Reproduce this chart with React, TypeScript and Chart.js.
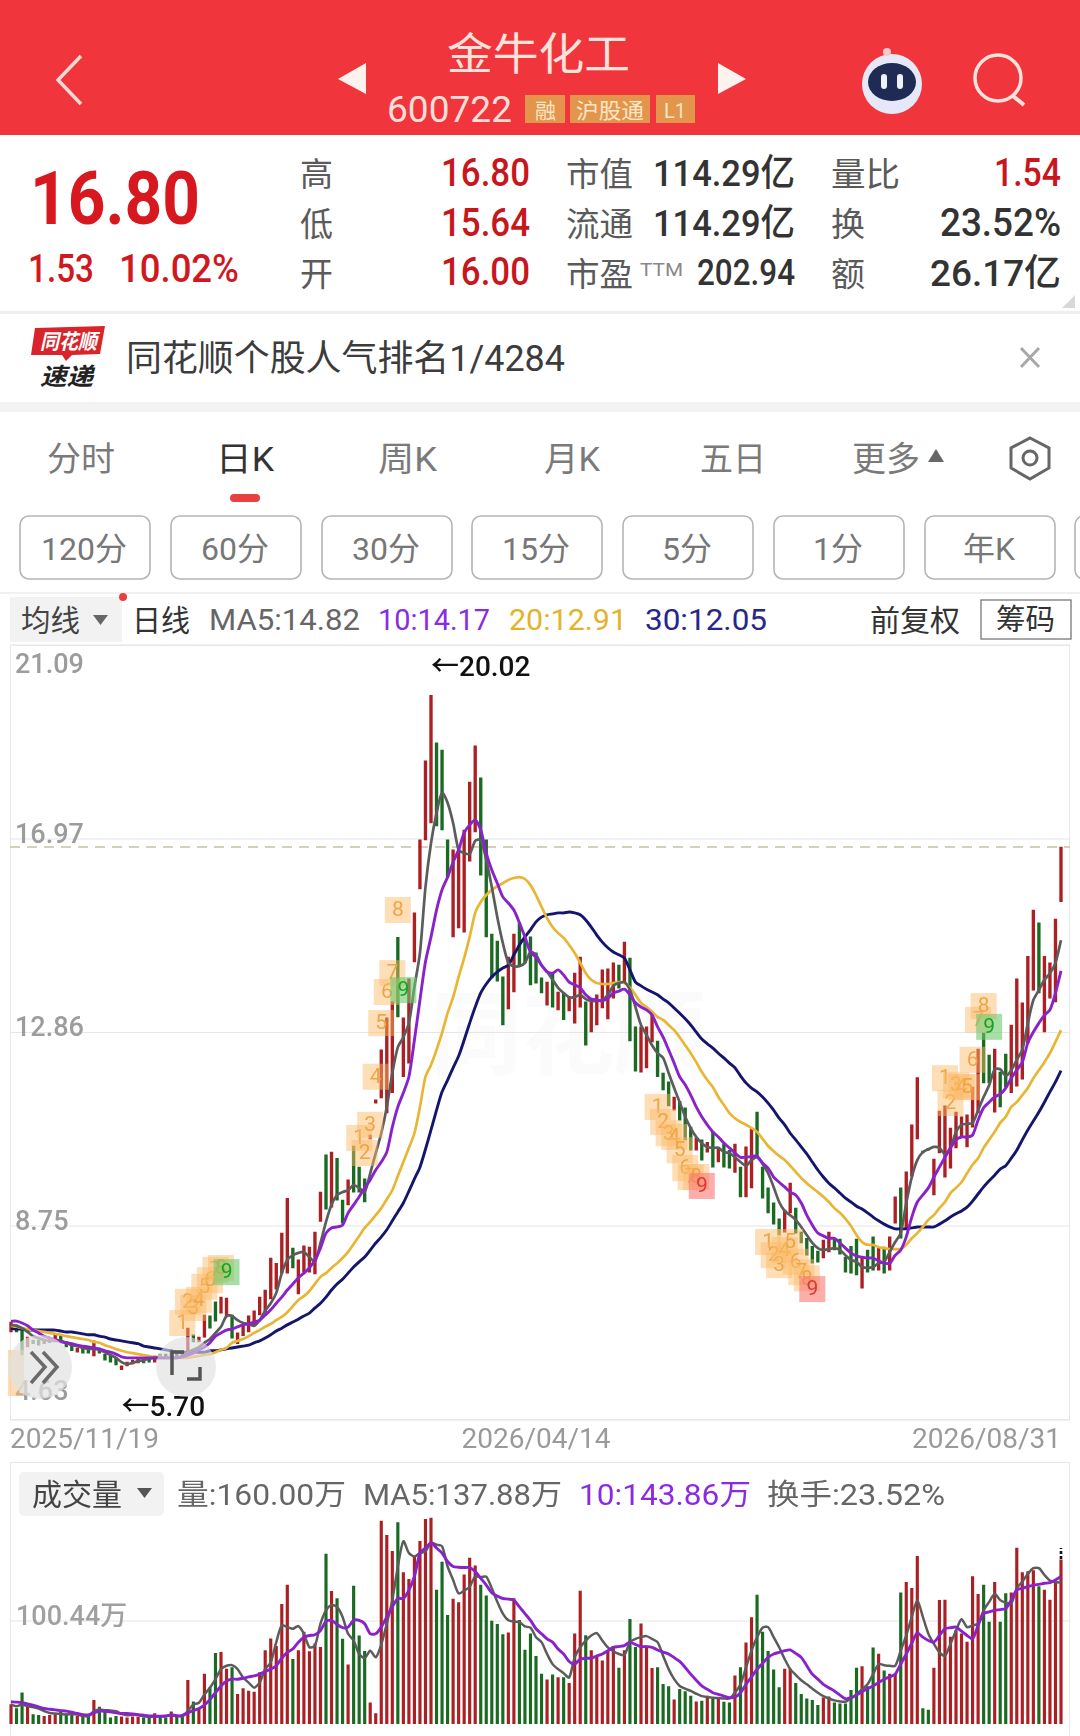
import React, { useEffect, useRef } from "react";
import { Chart, registerables } from "chart.js";

Chart.register(...registerables);

// ---------- data ----------
const barDirs =
  "rggrggrrrg" + "ggrggrgggg" + "rrrrggrggr" + "ggrgrrggrr" + "grrrrrrrrr" +
  "rgrrrrrgrg" + "grgggrrrrr" + "grrrrrrggg" + "rrrrrggggg" + "rrgggggrgr" +
  "grrrgrrrrr" + "grggrrrggg" + "rgggrgrgrg" + "grgrrggggg" + "rrgggggrrg" +
  "ggggrggrgr" + "rgrrrggrrr" + "rrrrrrggrg" + "grrrrrgrrr" + "r";

const barHigh = [
  6.71,6.65,6.54,6.39,6.33,6.33,6.33,6.37,6.44,6.42,
  6.29,6.22,6.16,6.14,6.12,6.31,6.16,6.03,5.99,5.95,
  5.78,5.86,5.90,5.95,5.93,5.95,5.99,6.03,6.03,6.12,
  6.07,6.07,6.58,6.44,6.39,6.86,6.84,7.14,7.24,7.22,
  6.86,6.48,6.63,6.84,6.95,7.24,7.39,8.07,7.96,8.60,
  9.34,8.28,8.03,8.33,8.30,8.62,9.47,10.26,10.32,10.19,
  9.30,9.73,10.45,10.00,9.75,10.68,11.43,12.49,13.17,13.51,
  14.88,13.17,14.00,15.40,16.95,18.63,20.02,19.01,18.86,16.95,
  16.74,16.80,17.16,18.18,18.95,18.27,16.95,14.95,14.80,14.04,
  14.46,14.95,15.19,14.83,14.89,14.55,14.02,13.93,14.12,13.72,
  13.70,13.61,14.12,14.46,13.51,13.55,13.66,14.19,14.21,14.34,
  14.29,14.78,14.44,12.98,12.98,12.98,13.25,12.68,12.00,11.81,
  11.49,11.40,11.26,10.85,10.62,10.58,10.53,10.75,10.41,10.49,
  10.36,10.49,10.00,10.43,10.81,11.17,10.00,9.56,9.24,8.90,
  9.09,9.66,9.13,8.62,8.49,8.32,8.22,8.45,8.62,8.47,
  8.47,8.09,8.32,8.47,8.07,8.24,8.52,8.28,8.30,8.52,
  9.37,9.56,9.90,10.90,11.90,10.34,10.40,10.17,11.19,11.30,
  10.83,11.17,11.07,11.11,11.70,12.51,12.85,12.38,12.51,12.02,
  12.40,13.02,14.00,13.49,14.48,15.46,15.19,14.48,14.34,15.27,
  16.80,
];

const barLow = [
  6.50,6.50,6.01,6.18,6.25,6.22,6.25,6.27,6.29,6.27,
  6.18,6.10,6.07,6.05,6.05,5.99,6.05,5.90,5.86,5.80,
  5.70,5.78,5.82,5.84,5.84,5.86,5.86,5.93,5.95,5.99,
  5.99,5.99,6.05,6.29,6.29,6.39,6.58,6.73,6.90,6.82,
  6.37,6.25,6.42,6.50,6.65,6.86,6.92,7.20,7.41,7.75,
  7.75,7.86,7.31,7.77,7.77,7.73,8.85,9.11,9.15,9.30,
  8.81,9.20,9.47,9.47,9.26,10.60,11.36,11.47,11.15,11.58,
  13.19,11.92,12.21,14.36,15.91,16.95,17.31,17.25,17.16,16.16,
  14.89,15.08,14.99,16.50,17.12,16.20,14.89,14.02,13.95,13.02,
  13.36,13.72,14.29,14.34,13.87,13.91,13.70,13.44,13.40,13.34,
  13.13,13.32,13.06,13.40,12.59,12.87,13.02,13.38,13.15,13.59,
  13.80,13.93,12.68,12.04,12.02,12.11,12.66,11.92,11.64,11.30,
  11.21,11.00,10.58,10.36,10.36,10.15,10.32,10.00,10.11,10.00,
  9.98,9.89,9.37,9.37,9.56,10.21,9.34,9.03,8.79,8.56,
  8.62,9.03,8.60,8.39,8.13,7.96,7.98,8.07,8.20,8.24,
  8.15,7.77,7.75,7.71,7.43,7.77,7.81,7.81,7.75,7.81,
  8.81,8.49,8.71,9.81,10.60,10.30,10.36,9.41,10.30,9.79,
  9.98,10.41,10.64,10.43,10.85,11.15,11.79,11.79,11.17,11.28,
  11.70,11.58,11.72,11.87,12.64,13.76,13.70,12.87,13.59,13.51,
  15.64,
];

const ma5 = [
  6.65,6.63,6.58,6.50,6.41,6.37,6.33,6.31,6.33,6.31,
  6.27,6.22,6.20,6.16,6.14,6.14,6.12,6.07,6.01,5.95,
  5.86,5.82,5.84,5.88,5.90,5.93,5.95,5.95,5.95,5.95,
  5.95,5.99,6.07,6.12,6.18,6.27,6.35,6.48,6.61,6.84,
  6.84,6.75,6.69,6.67,6.63,6.75,6.95,7.11,7.33,7.75,
  8.03,8.13,8.18,8.20,8.09,7.99,8.39,8.84,9.20,9.41,
  9.47,9.51,9.62,9.56,9.47,9.87,10.30,10.72,11.28,12.00,
  12.55,12.76,13.06,13.83,14.55,15.95,16.88,17.52,17.95,17.74,
  17.31,16.74,16.67,16.65,16.93,16.95,16.52,15.95,15.31,14.76,
  14.34,14.27,14.27,14.34,14.57,14.51,14.29,14.15,13.98,13.81,
  13.70,13.61,13.61,13.66,13.57,13.53,13.53,13.55,13.66,13.85,
  13.91,13.93,13.76,13.40,13.02,12.81,12.59,12.42,12.32,12.00,
  11.68,11.38,11.07,10.83,10.64,10.51,10.43,10.41,10.41,10.32,
  10.30,10.21,10.11,10.03,10.15,10.21,10.07,9.87,9.58,9.26,
  9.07,8.98,8.88,8.73,8.56,8.39,8.28,8.24,8.26,8.28,
  8.24,8.13,8.03,7.99,7.88,7.86,7.88,7.96,7.99,8.20,
  8.41,8.60,9.24,9.79,10.15,10.32,10.38,10.43,10.41,10.28,
  10.41,10.75,10.90,10.92,10.94,11.21,11.49,11.74,12.08,12.08,
  11.94,12.06,12.28,12.49,13.06,13.55,13.76,13.98,14.12,14.34,
  14.82,
];

const ma10 = [
  6.73,6.73,6.69,6.63,6.54,6.48,6.41,6.37,6.33,6.29,
  6.27,6.25,6.22,6.20,6.18,6.16,6.14,6.10,6.07,6.03,
  5.97,5.95,5.95,5.95,5.95,5.95,5.95,5.95,5.95,5.95,
  5.95,5.97,6.01,6.05,6.12,6.18,6.27,6.41,6.48,6.54,
  6.56,6.61,6.65,6.67,6.71,6.75,6.86,6.97,7.11,7.24,
  7.39,7.52,7.65,7.75,7.86,8.03,8.28,8.60,8.71,8.73,
  8.77,9.03,9.20,9.37,9.56,9.73,9.94,10.11,10.32,10.85,
  11.28,11.58,11.92,12.70,13.55,14.36,14.89,15.46,15.89,16.16,
  16.48,16.74,17.10,17.27,17.37,17.16,16.67,16.31,16.03,15.74,
  15.61,15.46,15.19,14.89,14.57,14.46,14.29,14.15,14.12,14.19,
  14.08,13.93,13.87,13.81,13.66,13.57,13.55,13.53,13.59,13.70,
  13.74,13.78,13.66,13.49,13.40,13.34,13.23,12.98,12.76,12.49,
  12.21,11.92,11.75,11.53,11.28,11.07,10.90,10.75,10.64,10.51,
  10.41,10.30,10.21,10.21,10.23,10.23,10.09,9.98,9.79,9.68,
  9.58,9.47,9.41,9.24,8.98,8.77,8.60,8.54,8.49,8.49,
  8.39,8.28,8.18,8.11,8.09,8.07,8.07,8.01,7.96,7.96,
  8.13,8.24,8.52,8.94,9.26,9.41,9.56,9.79,10.00,10.21,
  10.41,10.58,10.64,10.64,10.68,11.00,11.26,11.38,11.49,11.55,
  11.68,11.89,12.06,12.23,12.64,12.87,13.06,13.23,13.34,13.70,
  14.17,
];

const ma20 = [
  6.63,6.61,6.58,6.56,6.54,6.52,6.50,6.48,6.46,6.44,
  6.41,6.39,6.37,6.35,6.33,6.29,6.27,6.22,6.18,6.14,
  6.10,6.07,6.05,6.03,6.01,5.99,5.97,5.97,5.95,5.95,
  5.95,5.95,5.95,5.97,5.99,6.01,6.03,6.07,6.12,6.16,
  6.27,6.31,6.35,6.41,6.48,6.54,6.61,6.67,6.75,6.82,
  6.92,7.05,7.18,7.26,7.37,7.52,7.67,7.75,7.86,7.96,
  8.07,8.20,8.37,8.54,8.71,8.84,8.98,9.13,9.32,9.51,
  9.81,10.11,10.41,10.72,11.28,11.92,12.17,12.49,12.85,13.27,
  13.61,14.04,14.44,14.89,15.40,15.63,15.78,15.89,15.97,16.03,
  16.10,16.14,16.16,16.12,15.99,15.78,15.53,15.29,15.10,14.97,
  14.87,14.72,14.55,14.34,14.12,13.98,13.91,13.89,13.89,13.91,
  13.93,13.91,13.81,13.66,13.49,13.40,13.30,13.19,13.13,13.02,
  12.91,12.76,12.59,12.42,12.23,12.02,11.85,11.70,11.49,11.32,
  11.15,11.04,10.96,10.90,10.83,10.75,10.60,10.45,10.34,10.24,
  10.15,10.03,9.90,9.77,9.66,9.56,9.47,9.37,9.26,9.13,
  9.03,8.90,8.75,8.56,8.41,8.35,8.35,8.30,8.28,8.26,
  8.26,8.26,8.35,8.49,8.60,8.73,8.88,8.98,9.13,9.26,
  9.45,9.56,9.68,9.87,10.05,10.19,10.41,10.58,10.75,10.94,
  11.07,11.28,11.38,11.53,11.68,11.89,12.06,12.23,12.42,12.66,
  12.91,
];

const ma30 = [
  6.58,6.56,6.56,6.54,6.54,6.54,6.54,6.54,6.54,6.52,
  6.50,6.50,6.48,6.46,6.44,6.44,6.41,6.39,6.35,6.33,
  6.31,6.29,6.27,6.25,6.20,6.18,6.16,6.14,6.12,6.10,
  6.07,6.07,6.07,6.07,6.07,6.07,6.10,6.10,6.12,6.14,
  6.16,6.18,6.20,6.22,6.27,6.31,6.37,6.44,6.52,6.58,
  6.65,6.71,6.77,6.84,6.90,7.01,7.11,7.24,7.39,7.52,
  7.62,7.75,7.88,7.99,8.09,8.24,8.39,8.52,8.67,8.86,
  9.05,9.24,9.49,9.75,10.00,10.38,10.79,11.21,11.60,11.85,
  12.11,12.36,12.70,13.06,13.40,13.70,13.89,14.04,14.15,14.23,
  14.29,14.51,14.72,14.89,15.04,15.21,15.31,15.36,15.38,15.40,
  15.40,15.42,15.40,15.36,15.25,15.10,14.93,14.78,14.66,14.57,
  14.51,14.44,14.19,13.93,13.85,13.78,13.72,13.66,13.57,13.49,
  13.38,13.27,13.15,13.02,12.87,12.72,12.62,12.53,12.42,12.32,
  12.21,12.11,11.94,11.79,11.68,11.60,11.49,11.36,11.21,11.04,
  10.90,10.72,10.58,10.43,10.28,10.11,9.94,9.79,9.66,9.56,
  9.45,9.34,9.26,9.17,9.11,9.03,8.94,8.86,8.79,8.73,
  8.69,8.69,8.69,8.71,8.73,8.73,8.73,8.73,8.79,8.86,
  8.94,9.01,9.07,9.15,9.28,9.43,9.58,9.71,9.83,9.96,
  10.03,10.19,10.36,10.58,10.79,10.98,11.17,11.38,11.60,11.81,
  12.05,
];

const volumes = [
  19.0,15.1,30.5,17.4,9.2,8.5,7.5,8.5,9.2,11.8,
  9.8,9.2,7.5,8.5,8.5,23.0,16.4,14.1,5.9,7.5,
  6.9,5.9,6.9,6.6,5.9,7.5,10.2,7.5,5.9,11.8,
  7.5,6.6,42.7,21.7,15.1,48.6,35.4,68.9,69.9,53.5,
  55.1,28.9,34.5,32.2,31.2,50.2,71.5,83.0,75.8,116.8,
  135.5,63.0,71.5,89.6,70.6,78.1,74.8,165.7,129.3,122.4,
  82.7,57.8,134.6,86.0,70.9,20.7,10.2,197.9,184.1,168.4,
  196.3,147.7,141.1,162.5,178.2,199.5,200.9,130.6,157.9,106.0,
  121.8,118.5,145.4,161.8,154.3,135.5,125.0,100.4,97.1,87.3,
  88.9,122.4,101.1,72.2,88.0,66.0,48.6,43.0,47.9,45.3,
  45.3,39.7,88.0,129.6,86.3,71.5,66.6,61.7,71.5,75.8,
  54.5,71.5,102.1,74.8,97.8,74.8,54.2,55.1,38.7,36.4,
  23.6,33.8,31.5,27.2,21.7,22.3,27.2,24.0,24.0,21.3,
  20.7,46.9,55.1,79.1,103.7,125.7,89.6,70.9,52.8,35.4,
  53.5,53.5,39.7,28.9,24.6,23.0,18.1,25.6,26.6,20.7,
  19.7,19.7,32.8,54.5,56.1,36.4,74.2,68.3,51.9,48.6,
  48.6,128.0,138.2,132.3,163.4,15.1,13.5,54.5,120.5,120.8,
  84.7,91.2,88.0,79.8,143.8,126.4,135.5,99.4,138.2,99.4,
  127.3,128.0,171.6,147.7,148.7,149.7,133.9,130.6,120.8,137.2,
  160.0,
];

const volMa5 = [
  19.0,17.4,19.0,17.4,16.4,15.1,12.5,10.8,10.2,9.8,
  9.2,9.8,9.2,7.9,7.5,12.5,14.1,13.5,13.1,12.5,
  9.8,8.5,9.2,8.5,7.5,6.9,7.2,7.5,7.5,9.2,
  8.2,7.5,12.5,19.0,20.7,28.9,35.4,43.7,53.5,56.8,
  57.4,53.5,45.3,40.4,35.4,40.4,53.5,60.1,79.8,96.2,
  94.5,92.9,95.5,88.0,74.8,76.5,97.8,110.9,115.9,114.2,
  104.4,88.0,81.4,68.3,64.3,71.5,65.0,77.5,97.8,120.8,
  153.6,178.2,166.7,163.4,166.7,168.4,176.6,174.9,173.3,153.6,
  140.5,127.3,130.0,133.9,143.8,143.1,143.8,132.3,119.1,107.7,
  101.1,99.8,99.4,95.2,93.9,84.7,79.8,68.3,58.4,53.5,
  49.6,45.3,65.0,74.8,81.4,86.3,88.6,81.4,74.8,70.9,
  68.3,67.3,79.8,83.0,84.7,85.7,83.0,79.8,66.6,53.5,
  43.7,37.1,34.5,32.2,29.5,27.2,26.3,25.6,25.3,24.9,
  24.9,30.5,38.7,55.1,71.5,84.7,93.9,94.5,84.7,74.8,
  63.3,53.5,47.9,42.7,38.7,34.5,30.5,27.2,24.9,23.0,
  22.0,21.7,24.9,28.9,33.8,38.7,48.6,58.4,57.4,56.8,
  56.8,71.5,86.3,104.4,120.8,104.4,88.0,78.1,69.9,66.6,
  78.1,91.2,102.1,94.5,96.2,97.8,110.9,119.1,126.7,120.8,
  118.2,117.5,132.3,138.8,146.4,152.0,152.0,145.4,139.8,138.5,
  137.9,
];

const volMa10 = [
  21.7,21.3,20.7,19.7,18.4,16.7,15.1,14.4,13.8,13.1,
  12.5,11.5,10.2,9.2,8.9,10.8,12.5,12.5,11.8,10.8,
  10.2,10.2,9.8,9.2,8.5,7.9,7.9,7.5,7.9,8.5,
  7.9,8.5,10.8,13.1,15.1,18.4,24.0,30.5,37.1,42.0,
  43.7,43.7,44.6,45.9,46.9,48.6,51.2,53.5,56.8,64.3,
  69.9,73.2,79.8,84.7,86.3,87.0,91.2,100.1,101.1,97.1,
  93.9,94.5,101.1,101.1,97.8,88.0,88.0,94.5,104.4,114.2,
  122.4,122.4,130.6,143.8,166.7,171.6,176.6,171.6,166.7,158.5,
  153.6,152.9,152.6,152.6,148.7,142.1,135.5,128.0,124.7,122.4,
  121.8,120.8,114.2,107.7,101.1,92.9,88.0,83.0,79.8,73.2,
  68.3,61.0,58.4,63.3,64.0,64.3,66.3,68.3,71.5,74.8,
  75.5,76.5,79.8,77.5,75.5,75.5,74.8,72.2,70.2,68.3,
  64.7,61.0,55.1,48.6,42.7,37.1,33.8,30.5,28.9,27.2,
  25.6,26.3,30.5,38.7,45.9,53.5,59.1,65.0,68.3,69.9,
  71.5,72.2,68.9,65.0,56.8,48.6,43.7,38.7,35.4,32.2,
  28.2,24.6,25.6,28.2,31.5,34.5,37.1,40.4,43.7,45.9,
  48.6,58.4,68.3,78.8,88.9,84.7,81.4,79.8,86.3,92.9,
  93.9,94.5,90.6,86.3,83.0,96.2,107.7,109.3,110.9,111.6,
  112.6,120.8,130.6,132.3,133.9,135.5,136.2,137.2,137.8,140.5,
  143.8,
];

const priceTicks = [21.09, 16.97, 12.86, 8.75, 4.63];
const priceMin = 4.63;
const priceMax = 21.09;
const lastPrice = 16.8;
const volumeTick = 100.44;
const volumeTickLabel = "100.44万";
const dateLabels = ["2025/11/19", "2026/04/14", "2026/08/31"];
const dateBars = [0, 95, 190];
const peakBar = 76;
const peakLabel = "←20.02";
const troughBar = 20;
const troughLabel = "←5.70";

// nine-count badges: bar number, price where it sits, digit
const badgeBars = [
  31,32,33,34,35,36,37,38,39,
  63,64,65,66,67,68,69,70,71,
  117,118,119,120,121,122,123,124,125,
  137,138,139,140,141,142,143,144,145,
  169,170,171,172,173,174,175,176,177,
];
const badgePrices = [
  6.69,7.14,7.01,7.18,7.46,7.60,7.82,7.86,7.77,
  10.62,10.30,10.90,11.92,13.06,13.72,14.12,15.46,13.76,
  11.28,10.96,10.72,10.64,10.36,9.98,9.79,9.79,9.60,
  8.41,8.13,7.92,8.24,8.41,7.99,7.77,7.64,7.41,
  11.89,11.36,11.74,11.70,11.70,12.28,13.13,13.42,12.98,
];
const badgeDigits = "123456789";
const badgeLastKinds = ["green", "green", "red", "red", "green"];

// ---------- styles ----------
const RED_BAR = "#ac1f22";
const GREEN_BAR = "#1a6a22";
const C_MA5 = "#5c5c5c";
const C_MA10 = "#8a22cc";
const C_MA20 = "#e9b534";
const C_MA30 = "#15156e";
const FONT = 'Roboto, "Noto Sans CJK SC", sans-serif';
const labels = barHigh.map((_, i) => String(i));
const barColors = barHigh.map((_, i) => (barDirs[i] === "r" ? RED_BAR : GREEN_BAR));

const PLOT_LEFT = 10;
const PLOT_RIGHT = 1070;
const tickShifts = [21, -3, -3, -3, -27];

const mainPlugin = {
  id: "mainDecor",
  beforeDatasetsDraw(chart: any) {
    const { ctx, scales } = chart;
    const y = scales.y;
    ctx.save();
    ctx.strokeStyle = "#e6e6e6";
    ctx.lineWidth = 1.2;
    priceTicks.forEach((t) => {
      const py = y.getPixelForValue(t);
      ctx.beginPath();
      ctx.moveTo(PLOT_LEFT, py);
      ctx.lineTo(PLOT_RIGHT, py);
      ctx.stroke();
    });
    ctx.strokeStyle = "#c9c0a6";
    ctx.lineWidth = 1.4;
    ctx.setLineDash([10, 7]);
    const py = y.getPixelForValue(lastPrice);
    ctx.beginPath();
    ctx.moveTo(PLOT_LEFT, py);
    ctx.lineTo(PLOT_RIGHT, py);
    ctx.stroke();
    ctx.setLineDash([]);
    ctx.fillStyle = "#9c9c9c";
    ctx.font = `500 27px ${FONT}`;
    ctx.textAlign = "left";
    ctx.textBaseline = "middle";
    priceTicks.forEach((t, i) => {
      ctx.fillText(t.toFixed(2), 15, y.getPixelForValue(t) + tickShifts[i]);
    });
    ctx.restore();
  },
  afterDatasetsDraw(chart: any) {
    const { ctx, scales, chartArea } = chart;
    const x = scales.x;
    const y = scales.y;
    ctx.save();
    ctx.textAlign = "center";
    ctx.textBaseline = "middle";
    ctx.font = `21px ${FONT}`;
    badgeBars.forEach((bar, i) => {
      const group = Math.floor(i / 9);
      const digit = badgeDigits[i % 9];
      const last = i % 9 === 8;
      const kind = last ? badgeLastKinds[group] : "orange";
      const bx = x.getPixelForValue(bar);
      const by = y.getPixelForValue(badgePrices[i]);
      ctx.fillStyle =
        kind === "orange" ? "rgba(250,185,105,0.48)" : kind === "green" ? "rgba(110,200,110,0.6)" : "rgba(250,120,115,0.6)";
      ctx.fillRect(bx - 13, by - 13, 26, 26);
      ctx.fillStyle = kind === "orange" ? "#efa544" : kind === "green" ? "#12a520" : "#d83a3a";
      ctx.fillText(digit, bx, by + 1);
    });
    ctx.fillStyle = "#111";
    ctx.font = `500 28px ${FONT}`;
    ctx.textAlign = "left";
    ctx.fillText(peakLabel, x.getPixelForValue(peakBar), y.getPixelForValue(barHigh[peakBar]) - 26);
    ctx.fillText(troughLabel, x.getPixelForValue(troughBar), y.getPixelForValue(barLow[troughBar]) + 39);
    ctx.fillStyle = "#9a9a9a";
    ctx.font = `28px ${FONT}`;
    const aligns: CanvasTextAlign[] = ["left", "center", "right"];
    dateLabels.forEach((d, i) => {
      ctx.textAlign = aligns[i];
      const px = x.getPixelForValue(dateBars[i]) + (i === 0 ? -1 : 0);
      ctx.fillText(d, px, chartArea.bottom + 21);
    });
    ctx.restore();
  },
};

const volPlugin = {
  id: "volDecor",
  beforeDatasetsDraw(chart: any) {
    const { ctx, scales } = chart;
    const py = scales.y.getPixelForValue(volumeTick);
    ctx.save();
    ctx.strokeStyle = "#e6e6e6";
    ctx.lineWidth = 1.2;
    ctx.beginPath();
    ctx.moveTo(PLOT_LEFT, py);
    ctx.lineTo(PLOT_RIGHT, py);
    ctx.stroke();
    ctx.fillStyle = "#a0a0a0";
    ctx.font = `500 27px ${FONT}`;
    ctx.textBaseline = "middle";
    ctx.fillText(volumeTickLabel, 16, py - 3);
    ctx.restore();
  },
  afterDatasetsDraw(chart: any) {
    const { ctx, scales } = chart;
    const last = volumes.length - 1;
    const px = scales.x.getPixelForValue(last);
    const top = scales.y.getPixelForValue(volumes[last]);
    ctx.save();
    ctx.strokeStyle = "#111";
    ctx.lineWidth = 2.6;
    ctx.setLineDash([3, 2]);
    ctx.beginPath();
    ctx.moveTo(px, top - 1);
    ctx.lineTo(px, top - 12);
    ctx.stroke();
    ctx.restore();
  },
};

function baseOptions(min: number, max: number, padding: any): any {
  return {
    responsive: false,
    maintainAspectRatio: false,
    animation: false,
    devicePixelRatio: 1,
    layout: { padding },
    plugins: { legend: { display: false }, tooltip: { enabled: false } },
    scales: {
      x: { display: false, stacked: true, offset: true },
      y: { display: false, min, max },
    },
  };
}

function lineSet(data: number[], color: string, order: number, width: number): any {
  return {
    type: "line",
    data,
    borderColor: color,
    borderWidth: width,
    pointRadius: 0,
    tension: 0.25,
    fill: false,
    order,
  };
}

// ---------- header helpers ----------
const Txt = ({ x, y, s, w, c = "#333", fw = 400, a = "start", children, ff }: any) => (
  <text
    x={x}
    y={y}
    fontSize={s}
    fill={c}
    fontWeight={fw}
    textAnchor={a}
    fontFamily={ff || FONT}
    textLength={w}
    lengthAdjust={w ? "spacingAndGlyphs" : undefined}
  >
    {children}
  </text>
);

const tabs: [string, number, number, string][] = [
  ["分时", 47, 68, "#7a7a7a"],
  ["日K", 216, 58, "#333"],
  ["周K", 378, 59, "#7a7a7a"],
  ["月K", 544, 56, "#7a7a7a"],
  ["五日", 700, 66, "#7a7a7a"],
  ["更多", 852, 68, "#7a7a7a"],
];
const periodButtons: [string, number][] = [
  ["120分", 20], ["60分", 171], ["30分", 322], ["15分", 472], ["5分", 623], ["1分", 774], ["年K", 925],
];

function Header() {
  return (
    <svg width={1080} height={645} style={{ position: "absolute", left: 0, top: 0 }}>
      <rect x={0} y={0} width={1080} height={645} fill="#fff" />
      <rect x={0} y={0} width={1080} height={135} fill="#f0353c" />
      <path d="M81 56 L58 80 L81 104" fill="none" stroke="#f7d9d5" strokeWidth={3.5} />
      <Txt x={447} y={70} s={44} w={183} c="#fbe3dc">金牛化工</Txt>
      <path d="M338 79 L366 63 L366 94 Z" fill="#fdf3ee" />
      <path d="M746 79 L718 63 L718 94 Z" fill="#fdf3ee" />
      <Txt x={387} y={122} s={36} w={125} c="#fbdfd8">600722</Txt>
      <rect x={525} y={95} width={40} height={28} fill="#e3954b" />
      <Txt x={535} y={118} s={21} w={21} c="#fbe6c8">融</Txt>
      <rect x={570} y={95} width={80} height={28} fill="#e3954b" />
      <Txt x={576} y={118} s={21} w={68} c="#fbe6c8">沪股通</Txt>
      <rect x={656} y={95} width={39} height={28} fill="#e3954b" />
      <Txt x={664} y={118} s={21} w={22} c="#fbe6c8">L1</Txt>
      <circle cx={892} cy={84} r={30} fill="#e6e8f8" />
      <ellipse cx={892} cy={82} rx={24} ry={19} fill="#1f2a55" />
      <rect x={881} y={74} width={6} height={15} rx={3} fill="#eef0fa" />
      <rect x={897} y={74} width={6} height={15} rx={3} fill="#eef0fa" />
      <circle cx={887} cy={52} r={4} fill="#f6c9c9" />
      <circle cx={998} cy={78} r={23} fill="none" stroke="#fbe3dc" strokeWidth={3.5} />
      <path d="M1013 96 L1024 105" stroke="#fbe3dc" strokeWidth={4} />

      <Txt x={30} y={224} s={74} w={170} c="#d8181f" fw={700}>16.80</Txt>
      <Txt x={28} y={282} s={38} w={66} c="#d0181f" fw={500}>1.53</Txt>
      <Txt x={119} y={282} s={38} w={120} c="#d0181f" fw={500}>10.02%</Txt>

      <Txt x={300} y={186} s={33} w={33} c="#5a5a5a">高</Txt>
      <Txt x={300} y={236} s={33} w={33} c="#5a5a5a">低</Txt>
      <Txt x={300} y={286} s={33} w={33} c="#5a5a5a">开</Txt>
      <Txt x={441} y={186} s={38} w={89} c="#c8161d" fw={500}>16.80</Txt>
      <Txt x={441} y={236} s={38} w={89} c="#c8161d" fw={500}>15.64</Txt>
      <Txt x={441} y={285} s={38} w={89} c="#c8161d" fw={500}>16.00</Txt>

      <Txt x={566} y={186} s={33} w={67} c="#5a5a5a">市值</Txt>
      <Txt x={566} y={236} s={33} w={67} c="#5a5a5a">流通</Txt>
      <Txt x={566} y={286} s={33} w={67} c="#5a5a5a">市盈</Txt>
      <Txt x={653} y={186} s={37} w={142} c="#333" fw={500}>114.29亿</Txt>
      <Txt x={653} y={236} s={37} w={142} c="#333" fw={500}>114.29亿</Txt>
      <Txt x={640} y={276} s={18} w={43} c="#888">TTM</Txt>
      <Txt x={697} y={285} s={36} w={98} c="#333" fw={500}>202.94</Txt>

      <Txt x={831} y={186} s={33} w={69} c="#5a5a5a">量比</Txt>
      <Txt x={831} y={236} s={33} w={34} c="#5a5a5a">换</Txt>
      <Txt x={831} y={286} s={33} w={34} c="#5a5a5a">额</Txt>
      <Txt x={994} y={186} s={38} w={67} c="#c8161d" fw={500}>1.54</Txt>
      <Txt x={940} y={236} s={38} w={121} c="#333" fw={500}>23.52%</Txt>
      <Txt x={930} y={286} s={37} w={131} c="#333" fw={500}>26.17亿</Txt>
      <path d="M1075 295 L1075 308 L1062 308 Z" fill="#d8d8d8" />
      <rect x={0} y={311} width={1080} height={3} fill="#eeeeee" />

      <path d="M35 328 L105 326 L100 354 L72 355 L66 361 L62 355 L31 355 Z" fill="#d8242a" />
      <text x={40} y={349} fontSize={21} fill="#fff" fontWeight={700} fontStyle="italic" fontFamily={FONT} textLength={57} lengthAdjust="spacingAndGlyphs">同花顺</text>
      <text x={40} y={385} fontSize={24} fill="#222" fontWeight={700} fontStyle="italic" fontFamily={FONT} textLength={53} lengthAdjust="spacingAndGlyphs">速递</text>
      <Txt x={126} y={371} s={36} w={439} c="#3c3c3c">同花顺个股人气排名1/4284</Txt>
      <path d="M1021 348 L1039 367 M1039 348 L1021 367" stroke="#a8a8a8" strokeWidth={3} />
      <rect x={0} y={402} width={1080} height={10} fill="#f3f3f3" />

      {tabs.map(([t, x, w, c]) => (
        <Txt key={t} x={x} y={471} s={34} w={w} c={c}>{t}</Txt>
      ))}
      <path d="M928 462 L944 462 L936 449 Z" fill="#666" />
      <path d="M1030 438 L1049 448 L1049 468 L1030 479 L1011 468 L1011 448 Z" fill="none" stroke="#666" strokeWidth={3} />
      <circle cx={1030} cy={458} r={7} fill="none" stroke="#666" strokeWidth={3} />
      <rect x={230} y={494} width={30} height={8} rx={4} fill="#e8403f" />

      {periodButtons.map(([t, x]) => (
        <g key={t}>
          <rect x={x} y={516} width={130} height={63} rx={9} fill="#fff" stroke="#b5b5b5" strokeWidth={1.6} />
          <text x={x + 64} y={560} fontSize={32} fill="#777" textAnchor="middle" fontFamily={FONT}>{t}</text>
        </g>
      ))}
      <rect x={1075} y={516} width={20} height={63} rx={9} fill="#fff" stroke="#b5b5b5" strokeWidth={1.6} />

      <rect x={0} y={592} width={1080} height={2} fill="#f0f0f0" />
      <rect x={10} y={597} width={112} height={45} fill="#f2f2f2" />
      <circle cx={123} cy={597} r={4} fill="#e8403f" />
      <Txt x={21} y={631} s={30} w={59} c="#444">均线</Txt>
      <path d="M93 615 L108 615 L100.5 625 Z" fill="#666" />
      <Txt x={132} y={631} s={30} w={58} c="#333">日线</Txt>
      <Txt x={209} y={630} s={29} w={151} c="#666">MA5:14.82</Txt>
      <Txt x={378} y={630} s={29} w={112} c="#8a2be2">10:14.17</Txt>
      <Txt x={509} y={630} s={29} w={118} c="#e3b32a">20:12.91</Txt>
      <Txt x={645} y={630} s={29} w={122} c="#26268c">30:12.05</Txt>
      <Txt x={870} y={631} s={30} w={90} c="#333">前复权</Txt>
      <rect x={981} y={600} width={90} height={39} fill="#fff" stroke="#777" strokeWidth={1.3} />
      <Txt x={996} y={630} s={29} w={59} c="#333">筹码</Txt>
    </svg>
  );
}

function VolumeHeader() {
  return (
    <svg width={1080} height={60} style={{ position: "absolute", left: 0, top: 1462 }}>
      <rect x={19} y={10} width={145} height={44} rx={5} fill="#f2f2f2" />
      <Txt x={32} y={43} s={30} w={90} c="#444">成交量</Txt>
      <path d="M137 26 L152 26 L144.5 36 Z" fill="#555" />
      <Txt x={177} y={43} s={29} w={169} c="#666">量:160.00万</Txt>
      <Txt x={363} y={43} s={29} w={199} c="#666">MA5:137.88万</Txt>
      <Txt x={579} y={43} s={29} w={172} c="#8a2be2">10:143.86万</Txt>
      <Txt x={767} y={43} s={29} w={178} c="#666">换手:23.52%</Txt>
    </svg>
  );
}

function Overlays() {
  return (
    <svg width={1080} height={1736} style={{ position: "absolute", left: 0, top: 0, pointerEvents: "none" }}>
      <rect x={8} y={1350} width={16} height={46} fill="rgba(250,190,120,0.55)" />
      <circle cx={40} cy={1367} r={32} fill="rgba(226,226,226,0.72)" />
      <path d="M31 1352 L45 1367 L31 1383 M43 1352 L57 1367 L43 1383" fill="none" stroke="#6a6a6a" strokeWidth={3.5} />
      <circle cx={186} cy={1367} r={30} fill="rgba(222,222,222,0.62)" />
      <path d="M172 1375 L172 1352 L184 1352" fill="none" stroke="#555" strokeWidth={3.5} />
      <path d="M187 1379 L200 1379 L200 1367" fill="none" stroke="#555" strokeWidth={3.5} />
    </svg>
  );
}

export default function App() {
  const mainRef = useRef<HTMLCanvasElement>(null);
  const volRef = useRef<HTMLCanvasElement>(null);

  useEffect(() => {
    document.body.style.margin = "0";
    const main = new Chart(mainRef.current as any, {
      type: "bar",
      data: {
        labels,
        datasets: [
          {
            type: "bar",
            data: barHigh.map((h, i) => [barLow[i], h]),
            backgroundColor: barColors,
            barThickness: 2.7,
            order: 10,
          } as any,
          lineSet(ma30, C_MA30, 4, 2.9),
          lineSet(ma20, C_MA20, 3, 2.7),
          lineSet(ma5, C_MA5, 2, 2.7),
          lineSet(ma10, C_MA10, 1, 2.9),
        ],
      },
      options: baseOptions(priceMin, priceMax, { left: 8.24, right: 16.24, top: 5, bottom: 40 }),
      plugins: [mainPlugin],
    });
    const vol = new Chart(volRef.current as any, {
      type: "bar",
      data: {
        labels,
        datasets: [
          {
            type: "bar",
            data: volumes,
            backgroundColor: barColors,
            barThickness: 2.5,
            order: 10,
          } as any,
          lineSet(volMa5, C_MA5, 2, 2.5),
          lineSet(volMa10, C_MA10, 1, 2.9),
        ],
      },
      options: baseOptions(0, 220, { left: 8.24, right: 16.24, top: 36.4, bottom: 12 }),
      plugins: [volPlugin],
    });
    return () => {
      main.destroy();
      vol.destroy();
    };
  }, []);

  return (
    <div style={{ position: "absolute", left: 0, top: 0, width: 1080, height: 1736, background: "#fff", overflow: "hidden", fontFamily: FONT }}>
      <Header />
      <div style={{ position: "absolute", left: 430, top: 960, fontSize: 92, fontWeight: 700, color: "#fbfbfb" }}>同花顺</div>
      <div style={{ position: "absolute", left: 10, top: 645, width: 1060, height: 775, border: "1.5px solid #e8e8e8", boxSizing: "border-box" }} />
      <div style={{ position: "absolute", left: 10, top: 1462, width: 1060, height: 274, border: "1.5px solid #e8e8e8", borderBottom: "none", boxSizing: "border-box" }} />
      <canvas ref={mainRef} width={1080} height={820} style={{ position: "absolute", left: 0, top: 640, width: 1080, height: 820 }} />
      <canvas ref={volRef} width={1080} height={274} style={{ position: "absolute", left: 0, top: 1462, width: 1080, height: 274 }} />
      <VolumeHeader />
      <Overlays />
    </div>
  );
}
